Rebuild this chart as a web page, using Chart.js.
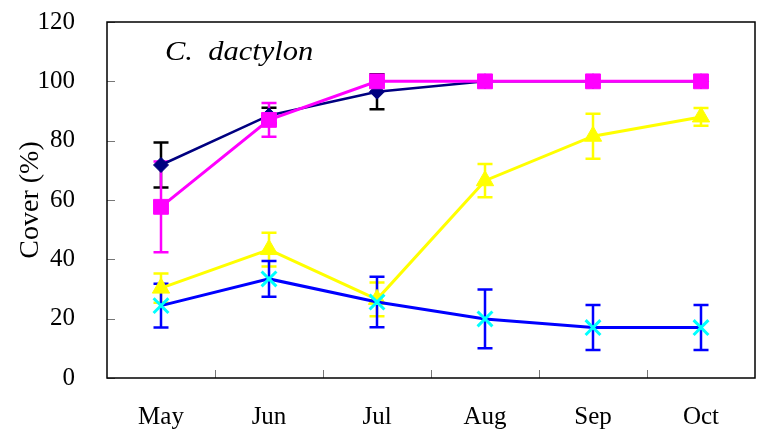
<!DOCTYPE html>
<html><head><meta charset="utf-8">
<script src="https://cdn.jsdelivr.net/npm/chart.js@4/dist/chart.umd.min.js"></script>
<style>html,body{margin:0;padding:0;background:#fff;overflow:hidden;}canvas{display:block;}</style>
</head><body><canvas id="c" width="763" height="435"></canvas>
<script>
const categories = ['May', 'Jun', 'Jul', 'Aug', 'Sep', 'Oct'];
const navyValues = [71.8, 88.5, 96.5, 100, 100, 100];
const navyErrors = [7.6, 2.6, 5.9, 0, 0, 0];
const magentaValues = [57.7, 87, 100, 100, 100, 100];
const magentaErrors = [15.3, 5.7, 0, 0, 0, 0];
const yellowValues = [30.3, 43.3, 26.5, 66.5, 81.5, 88];
const yellowErrors = [4.9, 5.7, 5.7, 5.6, 7.6, 3];
const blueValues = [24.4, 33.4, 25.6, 19.9, 17, 17];
const blueErrors = [7.4, 6, 8.5, 9.9, 7.6, 7.6];
const yMin = 0, yMax = 120, yStep = 20;
const titleText = 'C.  dactylon';
const yTitle = 'Cover (%)';

const errorBars = {
  id: 'errorBars',
  beforeDatasetsDraw(chart) {
    const ctx = chart.ctx, y = chart.scales.y, x = chart.scales.x;
    chart.data.datasets.forEach((ds) => {
      if (!ds.errors) return;
      ctx.save();
      ctx.strokeStyle = ds.errorColor;
      ctx.lineWidth = 2.5;
      ds.data.forEach((v, i) => {
        const e = ds.errors[i];
        if (!e) return;
        const px = x.getPixelForValue(i);
        const top = y.getPixelForValue(v + e), bot = y.getPixelForValue(v - e);
        ctx.beginPath();
        ctx.moveTo(px, top); ctx.lineTo(px, bot);
        ctx.moveTo(px - 7.5, top); ctx.lineTo(px + 7.5, top);
        ctx.moveTo(px - 7.5, bot); ctx.lineTo(px + 7.5, bot);
        ctx.stroke();
      });
      ctx.restore();
    });
  }
};

const frame = {
  id: 'frame',
  beforeDatasetsDraw(chart) {
    const ctx = chart.ctx, a = chart.chartArea, y = chart.scales.y, x = chart.scales.x;
    ctx.save();
    ctx.strokeStyle = '#777';
    ctx.lineWidth = 1;
    ctx.beginPath();
    y.ticks.forEach(t => {
      const py = Math.round(y.getPixelForValue(t.value)) + 0.5;
      ctx.moveTo(a.left, py); ctx.lineTo(a.left + 8, py);
    });
    const n = categories.length;
    for (let i = 1; i < n; i++) {
      const px = Math.round(x.getPixelForValue(i - 0.5)) + 0.5;
      ctx.moveTo(px, a.bottom); ctx.lineTo(px, a.bottom - 8);
    }
    ctx.stroke();
    ctx.restore();
  },
  afterDraw(chart) {
    const ctx = chart.ctx, a = chart.chartArea;
    ctx.save();
    ctx.strokeStyle = '#000';
    ctx.lineWidth = 1.5;
    ctx.strokeRect(a.left, a.top, a.right - a.left, a.bottom - a.top);
    ctx.fillStyle = '#000';
    ctx.font = 'italic 27px "Liberation Serif"';
    ctx.textBaseline = 'alphabetic';
    ctx.translate(a.left + 58, a.top + 38);
    ctx.scale(1.13, 1);
    ctx.fillText(titleText, 0, 0);
    ctx.restore();
  }
};

new Chart(document.getElementById('c'), {
  type: 'line',
  data: {
    labels: categories,
    datasets: [
      { data: navyValues, errors: navyErrors, errorColor: '#000000', borderColor: '#000080', backgroundColor: '#000080',
        borderWidth: 2.5, pointStyle: 'rectRot', pointRadius: 7.5, pointBorderWidth: 1, tension: 0, order: 4 },
      { data: magentaValues, errors: magentaErrors, errorColor: '#FF00FF', borderColor: '#FF00FF', backgroundColor: '#FF00FF',
        borderWidth: 3, pointStyle: 'rect', pointRadius: 10.5, pointBorderWidth: 1, tension: 0, order: 3 },
      { data: yellowValues, errors: yellowErrors, errorColor: '#FFFF00', borderColor: '#FFFF00', backgroundColor: '#FFFF00',
        borderWidth: 3, pointStyle: 'triangle', pointRadius: 10, pointBorderWidth: 1, tension: 0, order: 2 },
      { data: blueValues, errors: blueErrors, errorColor: '#0000FF', borderColor: '#0000FF', backgroundColor: '#00FFFF',
        pointBorderColor: '#00FFFF', borderWidth: 3, pointStyle: 'crossRot', pointRadius: 10.5, pointBorderWidth: 3, tension: 0, order: 1 }
    ]
  },
  options: {
    responsive: false, animation: false,
    layout: { autoPadding: false, padding: { top: 22, right: 8, bottom: 0, left: 0 } },
    plugins: { legend: { display: false }, tooltip: { enabled: false } },
    scales: {
      x: {
        offset: true,
        grid: { display: false, drawTicks: false },
        border: { display: false },
        ticks: { color: '#000', font: { family: 'Liberation Serif', size: 25 }, padding: 24, maxRotation: 0 },
        afterFit(s) { s.height = 57; s.paddingLeft = 0; s.paddingRight = 0; }
      },
      y: {
        min: yMin, max: yMax,
        grid: { display: false, drawTicks: false },
        border: { display: false },
        ticks: { stepSize: yStep, color: '#000', font: { family: 'Liberation Serif', size: 25 }, padding: 32 },
        title: { display: true, text: yTitle, color: '#000', font: { family: 'Liberation Serif', size: 28 }, padding: { top: 14, bottom: 0 } },
        afterFit(s) { s.width = 107; s.paddingTop = 0; s.paddingBottom = 0; }
      }
    }
  },
  plugins: [errorBars, frame]
});
</script></body></html>
